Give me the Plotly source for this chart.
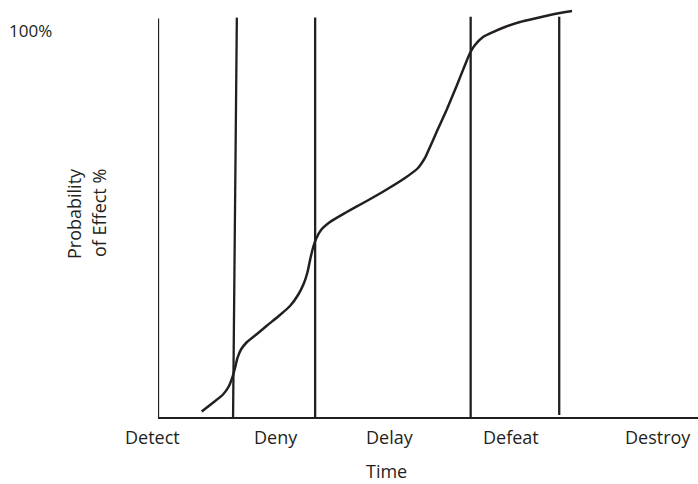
import plotly.graph_objects as go

# ---- data (time units 0-100 along the axis, probability in %) ----
curve_time = [8.09, 10.0, 12.04, 13.15, 13.80, 14.26, 14.72, 15.37, 16.48, 18.33, 20.19,
              22.59, 24.44, 25.93, 27.04, 27.69, 28.24, 28.70, 29.26, 30.19, 31.85, 34.63,
              38.33, 42.04, 45.74, 48.15, 49.44, 50.37, 51.67, 53.52, 55.37, 56.85, 57.78,
              58.70, 60.19, 62.04, 64.26, 67.04, 69.81, 72.59, 74.44, 76.67]
curve_prob = [1.42, 3.49, 5.81, 8.01, 10.34, 12.66, 15.25, 17.44, 19.38, 21.45, 23.64,
              26.36, 28.68, 31.52, 34.63, 37.47, 41.09, 43.67, 46.00, 48.32, 50.39, 52.71,
              55.56, 58.53, 61.76, 64.34, 66.93, 69.77, 73.90, 79.59, 85.79, 90.96, 94.06,
              96.12, 98.19, 99.48, 100.78, 102.07, 102.97, 103.88, 104.39, 104.91]

# phase boundaries: time at bottom, time at top, probability at bottom, at top
boundary_bottom_time = [0.0, 13.9, 29.1, 57.9, 74.3]
boundary_top_time = [0.0, 14.6, 29.1, 57.9, 74.3]
boundary_bottom_prob = [0.0, 0.0, 0.0, 0.0, 0.5]
boundary_top_prob = [103.0, 103.2, 103.2, 103.4, 103.4]

phase_labels = ["Detect", "Deny", "Delay", "Defeat", "Destroy"]
phase_label_time = [-1.0, 21.85, 42.9, 65.4, 92.6]

y_tick_label = "100%"
y_tick_value = 100
x_title = "Time"
y_title_lines = ["Probability", "of Effect %"]

INK = "#231f20"
FONT = "Open Sans"
Y_MAX = 106.46

fig = go.Figure()

for xb, xt, yb, yt in zip(boundary_bottom_time, boundary_top_time,
                          boundary_bottom_prob, boundary_top_prob):
    fig.add_trace(go.Scatter(x=[xb, xt], y=[yb, yt], mode="lines",
                             line=dict(color=INK, width=2.3),
                             hoverinfo="skip", showlegend=False))

fig.add_trace(go.Scatter(x=curve_time, y=curve_prob, mode="lines",
                         line=dict(color=INK, width=2.5, shape="spline", smoothing=0.5),
                         showlegend=False))

annotations = []
for lab, xt in zip(phase_labels, phase_label_time):
    annotations.append(dict(x=xt / 100, y=-0.0485, xref="paper", yref="paper", text=lab,
                            showarrow=False, xanchor="center", yanchor="middle",
                            font=dict(family=FONT, size=18, color=INK)))
annotations.append(dict(x=0.4235, y=-0.1626, xref="paper", yref="paper", text=x_title,
                        showarrow=False, xanchor="center", yanchor="bottom", borderpad=0,
                        font=dict(family=FONT, size=18, color=INK)))
annotations.append(dict(x=-0.237, y=y_tick_value / Y_MAX, xref="paper", yref="paper",
                        text=y_tick_label, showarrow=False, xanchor="center",
                        yanchor="middle", font=dict(family=FONT, size=17, color=INK)))
for line_text, xp in zip(y_title_lines, [-0.1556, -0.1093]):
    annotations.append(dict(x=xp, y=0.495, xref="paper", yref="paper",
                            text=line_text, textangle=-90, showarrow=False,
                            xanchor="center", yanchor="middle",
                            font=dict(family=FONT, size=18, color=INK)))

fig.update_layout(
    width=698, height=484,
    margin=dict(l=158, r=0, t=5, b=67),
    paper_bgcolor="white", plot_bgcolor="white",
    annotations=annotations,
    xaxis=dict(range=[0, 100], showgrid=False, zeroline=False, showticklabels=False,
               ticks="", showline=True, linecolor=INK, linewidth=2.3),
    yaxis=dict(range=[0, Y_MAX], showgrid=False, zeroline=False,
               showticklabels=False, ticks="", showline=False),
)

fig.write_html("out.html", config={"displayModeBar": False})

# remove the browser's default page margin so the figure sits at (0, 0)
with open("out.html", "r", encoding="utf-8") as f:
    html = f.read()
html = html.replace("<head>", "<head><style>html,body{margin:0;padding:0;}</style>", 1)
with open("out.html", "w", encoding="utf-8") as f:
    f.write(html)
